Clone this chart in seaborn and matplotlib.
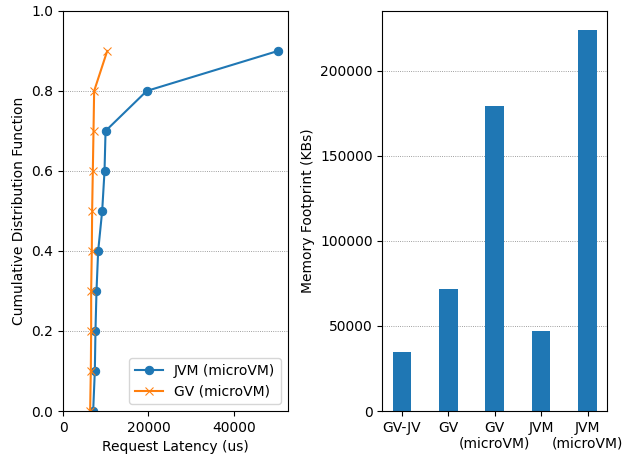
import matplotlib
matplotlib.use("Agg")
import matplotlib.pyplot as plt
import seaborn as sns
import pandas as pd

cdf = [0.0, 0.1, 0.2, 0.3, 0.4, 0.5, 0.6, 0.7, 0.8, 0.9]
jvm_latency = [7060, 7450, 7600, 7840, 8230, 9170, 9720, 9960, 19600, 50330]
gv_latency = [6350, 6510, 6590, 6590, 6740, 6820, 6980, 7140, 7290, 10350]

categories = ["GV-JV", "GV", "GV\n(microVM)", "JVM", "JVM\n(microVM)"]
memory = [34900, 71700, 179300, 47200, 223800]

fig, (ax1, ax2) = plt.subplots(1, 2, figsize=(6.3, 4.55), dpi=100)
fig.subplots_adjust(left=0.1, right=0.9635, top=0.976, bottom=0.0967, wspace=0.423)

sns.lineplot(x=jvm_latency, y=cdf, ax=ax1, marker="o", color="#1f77b4",
             estimator=None, sort=False, label="JVM (microVM)",
             markeredgecolor="#1f77b4", markersize=6)
sns.lineplot(x=gv_latency, y=cdf, ax=ax1, marker="x", color="#ff7f0e",
             estimator=None, sort=False, label="GV (microVM)",
             markeredgecolor="#ff7f0e", markersize=6)
ax1.set_ylim(0, 1.0)
ax1.set_xlim(left=0, right=52550)
ax1.set_xticks([0, 20000, 40000])
ax1.set_xlabel("Request Latency (us)")
ax1.set_ylabel("Cumulative Distribution Function")
ax1.grid(axis="y", linestyle=":", color="gray", linewidth=0.6)
ax1.set_axisbelow(True)
ax1.legend(loc="lower right")

df = pd.DataFrame({"cat": categories, "mem": memory})
sns.barplot(data=df, x="cat", y="mem", ax=ax2, color="#1f77b4",
            saturation=1, width=0.4)
ax2.set_xlim(-0.42, 4.42)
ax2.set_ylim(0, 235000)
ax2.set_xlabel("")
ax2.set_ylabel("Memory Footprint (KBs)")
ax2.grid(axis="y", linestyle=":", color="gray", linewidth=0.6)
ax2.set_axisbelow(True)

fig.savefig("out.png", dpi=100)
